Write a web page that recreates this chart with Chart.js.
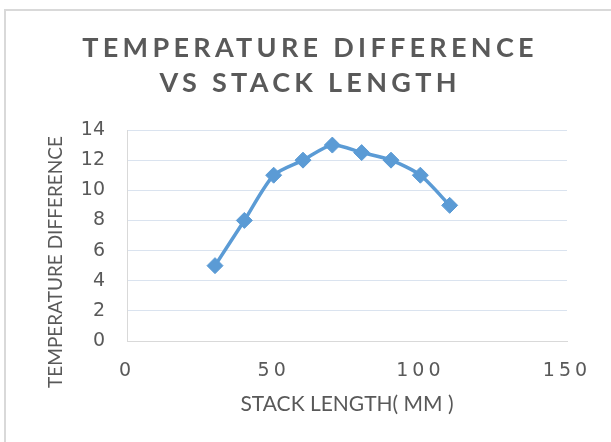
<!DOCTYPE html>
<html><head><meta charset="utf-8">
<script src="https://cdn.jsdelivr.net/npm/chart.js@4.4.0/dist/chart.umd.min.js"></script>
<style>
html,body{margin:0;padding:0;background:#fff;overflow:hidden;}
#frame{position:absolute;left:4px;top:9px;width:700px;height:500px;border-left:2px solid #d9d9d9;border-top:2px solid #d9d9d9;}
#wrap{position:absolute;left:0;top:0;width:611px;height:442px;}
</style></head><body>
<div id="frame"></div>
<div id="wrap"><canvas id="c" width="611" height="442"></canvas></div>
<script>
const stackLength = [30, 40, 50, 60, 70, 80, 90, 100, 110];
const tempDiff = [5, 8, 11, 12, 13, 12.5, 12, 11, 9];
const xTicks = [0, 50, 100, 150];
const yTicks = [0, 2, 4, 6, 8, 10, 12, 14];
const titleLines = ['TEMPERATURE DIFFERENCE', 'VS STACK LENGTH'];
const xTitle = 'STACK LENGTH( MM )';
const yTitle = 'TEMPERATURE DIFFERENCE';

const TEXT = '#595959';

const textPlugin = {
  id: 'texts',
  afterDatasetsDraw(chart) { chart.ctx.letterSpacing = '4px'; },
  afterDraw(chart) {
    const ctx = chart.ctx;
    ctx.letterSpacing = '0px';
    const a = chart.chartArea;
    ctx.save();
    ctx.fillStyle = TEXT;
    ctx.textAlign = 'center';
    ctx.textBaseline = 'alphabetic';
    ctx.font = '21px Lato';
    ctx.fillText(xTitle, (a.left + a.right) / 2, 411);
    ctx.save();
    ctx.translate(56, 262);
    ctx.rotate(-Math.PI / 2);
    ctx.textBaseline = 'middle';
    ctx.font = '19px Lato';
    ctx.fillText(yTitle, 0, 0);
    ctx.restore();
    ctx.font = 'bold 27px Lato';
    ctx.letterSpacing = '4.3px';
    const cx = 308 + 2.1;
    ctx.fillText(titleLines[0], cx, 57);
    ctx.fillText(titleLines[1], cx, 92);
    ctx.restore();
    ctx.letterSpacing = '0px';
  }
};

new Chart(document.getElementById('c'), {
  type: 'line',
  data: {
    datasets: [{
      data: stackLength.map((x, i) => ({ x: x, y: tempDiff[i] })),
      borderColor: '#5B9BD5',
      backgroundColor: '#5B9BD5',
      borderWidth: 3.5,
      pointStyle: 'rectRot',
      pointRadius: 8,
      pointBorderWidth: 1,
      pointBackgroundColor: '#5B9BD5',
      pointBorderColor: '#5B9BD5',
      tension: 0.25,
      fill: false
    }]
  },
  options: {
    responsive: false,
    devicePixelRatio: 1,
    animation: false,
    layout: { padding: { top: 130, left: 44, right: 44, bottom: 27 } },
    plugins: { legend: { display: false }, tooltip: { enabled: false }, title: { display: false } },
    scales: {
      x: {
        type: 'linear',
        min: 0, max: 150,
        afterBuildTicks: s => { s.ticks = xTicks.map(v => ({ value: v })); },
        afterFit: s => { s.height = 74; },
        grid: { display: false, drawTicks: false },
        border: { display: true, color: '#d9d9d9', width: 1 },
        ticks: { z: 1, color: TEXT, font: { family: 'DejaVu Sans', size: 19 }, padding: 19, maxRotation: 0 },
        title: { display: false }
      },
      y: {
        min: 0, max: 14,
        afterBuildTicks: s => { s.ticks = yTicks.map(v => ({ value: v })); },
        afterFit: s => { s.width = 83; },
        grid: { color: '#dae3ef', drawTicks: false, lineWidth: 1 },
        border: { display: true, color: '#d9d9d9', width: 1 },
        ticks: { color: TEXT, font: { family: 'DejaVu Sans', size: 19 }, padding: 22 },
        title: { display: false }
      }
    }
  },
  plugins: [textPlugin]
});
</script>
</body></html>
